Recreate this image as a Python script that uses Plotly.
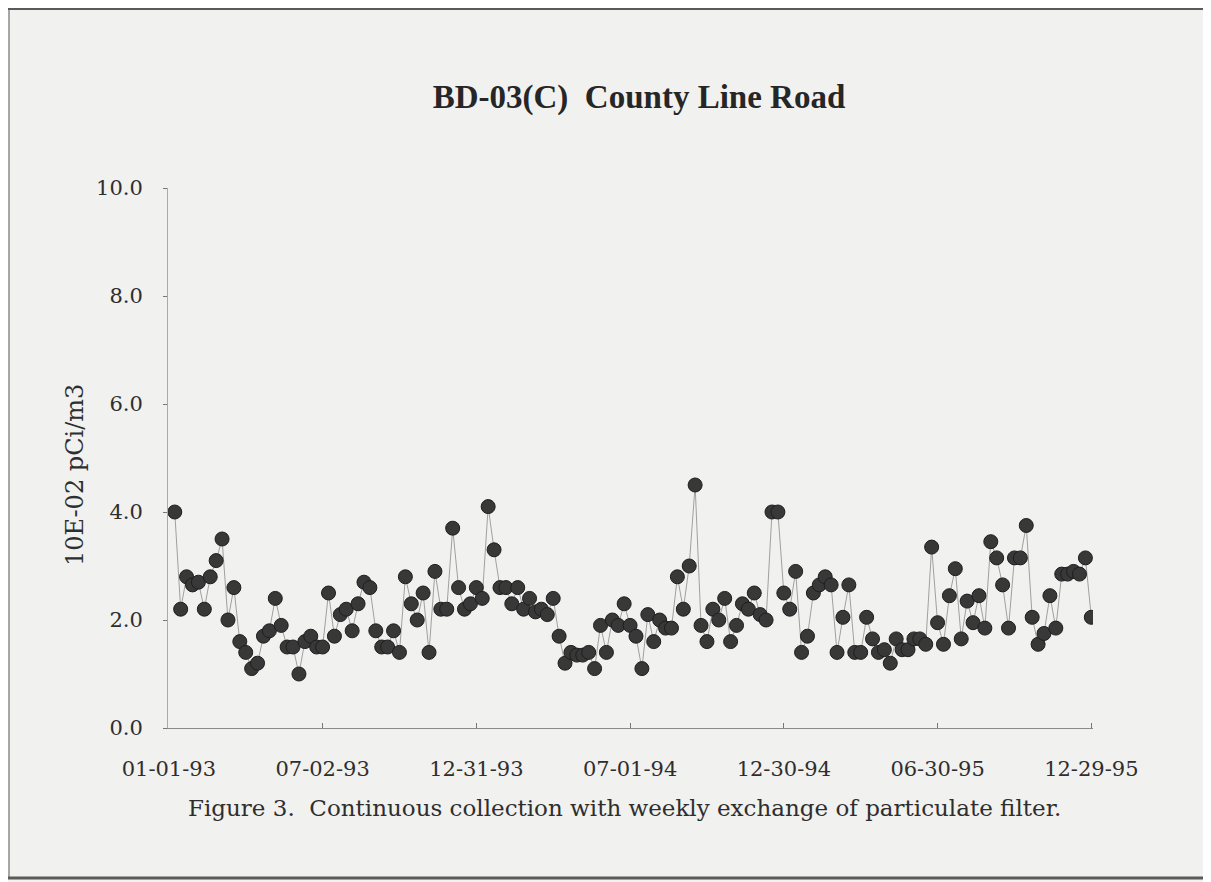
import pandas as pd
import plotly.graph_objects as go

# weekly particulate filter results, 10E-02 pCi/m3
values = [
    4.0, 2.2, 2.8, 2.65, 2.7, 2.2, 2.8, 3.1, 3.5, 2.0,
    2.6, 1.6, 1.4, 1.1, 1.2, 1.7, 1.8, 2.4, 1.9, 1.5,
    1.5, 1.0, 1.6, 1.7, 1.5, 1.5, 2.5, 1.7, 2.1, 2.2,
    1.8, 2.3, 2.7, 2.6, 1.8, 1.5, 1.5, 1.8, 1.4, 2.8,
    2.3, 2.0, 2.5, 1.4, 2.9, 2.2, 2.2, 3.7, 2.6, 2.2,
    2.3, 2.6, 2.4, 4.1, 3.3, 2.6, 2.6, 2.3, 2.6, 2.2,
    2.4, 2.15, 2.2, 2.1, 2.4, 1.7, 1.2, 1.4, 1.35, 1.35,
    1.4, 1.1, 1.9, 1.4, 2.0, 1.9, 2.3, 1.9, 1.7, 1.1,
    2.1, 1.6, 2.0, 1.85, 1.85, 2.8, 2.2, 3.0, 4.5, 1.9,
    1.6, 2.2, 2.0, 2.4, 1.6, 1.9, 2.3, 2.2, 2.5, 2.1,
    2.0, 4.0, 4.0, 2.5, 2.2, 2.9, 1.4, 1.7, 2.5, 2.65,
    2.8, 2.65, 1.4, 2.05, 2.65, 1.4, 1.4, 2.05, 1.65, 1.4,
    1.45, 1.2, 1.65, 1.45, 1.45, 1.65, 1.65, 1.55, 3.35, 1.95,
    1.55, 2.45, 2.95, 1.65, 2.35, 1.95, 2.45, 1.85, 3.45, 3.15,
    2.65, 1.85, 3.15, 3.15, 3.75, 2.05, 1.55, 1.75, 2.45, 1.85,
    2.85, 2.85, 2.9, 2.85, 3.15, 2.05,
]
dates = pd.date_range("1993-01-08", periods=len(values), freq="7D")

tick_dates = ["1993-01-01", "1993-07-02", "1993-12-31", "1994-07-01",
              "1994-12-30", "1995-06-30", "1995-12-29"]
tick_text = ["01-01-93", "07-02-93", "12-31-93", "07-01-94",
             "12-30-94", "06-30-95", "12-29-95"]
y_ticks = [0, 2, 4, 6, 8, 10]
y_tick_text = ["0.0", "2.0", "4.0", "6.0", "8.0", "10.0"]

SERIF = "DejaVu Serif, serif"
TITLE_FONT = "Liberation Serif, Times New Roman, serif"
PAPER = "#f1f1ef"
INK = "#2e2e2e"

W, H = 1211, 882
L, T, PW, PH = 160, 180, 925, 540  # plot area in figure pixels


def px_x(x):
    return (x - L) / PW


def px_y(y):
    return (T + PH - y) / PH


fig = go.Figure()
fig.add_trace(
    go.Scatter(
        x=dates,
        y=values,
        mode="lines+markers",
        line=dict(color="#a0a0a0", width=1),
        marker=dict(size=14, color="#383838", line=dict(color="#1e1e1e", width=1)),
        showlegend=False,
    )
)

fig.update_layout(
    width=W,
    height=H,
    margin=dict(l=L, r=W - L - PW, t=T, b=H - T - PH),
    paper_bgcolor=PAPER,
    plot_bgcolor=PAPER,
    font=dict(family=SERIF, size=21, color=INK),
    title=dict(
        text="<b>BD-03(C)  County Line Road</b>",
        x=631 / W,
        xanchor="center",
        y=1 - 88 / H,
        yanchor="middle",
        font=dict(family=TITLE_FONT, size=33, color="#262626"),
    ),
)

fig.update_xaxes(
    range=["1992-12-31", "1995-12-31"],
    tickvals=tick_dates,
    ticktext=tick_text,
    ticks="inside",
    ticklen=5,
    tickcolor="#777777",
    ticklabelstandoff=22,
    showline=True,
    linecolor="#8a8a8a",
    linewidth=1,
    showgrid=False,
    zeroline=False,
    tickfont=dict(family=SERIF, size=21, color=INK),
)
fig.update_yaxes(
    range=[0, 10],
    tickvals=y_ticks,
    ticktext=y_tick_text,
    ticks="outside",
    ticklen=4,
    tickcolor="#777777",
    ticklabelstandoff=16,
    showline=True,
    linecolor="#aaaaaa",
    linewidth=1,
    showgrid=False,
    zeroline=False,
    tickfont=dict(family=SERIF, size=21, color=INK),
)

# axis title placed by hand so it sits where the scan has it
fig.add_annotation(
    text="10E-02 pCi/m3",
    xref="paper", yref="paper",
    x=px_x(67), y=px_y(467),
    xanchor="center", yanchor="middle",
    textangle=-90,
    showarrow=False,
    font=dict(family=SERIF, size=24, color=INK),
)

fig.add_annotation(
    text="Figure 3.  Continuous collection with weekly exchange of particulate filter.",
    xref="paper", yref="paper",
    x=px_x(616), y=px_y(800),
    xanchor="center", yanchor="middle",
    showarrow=False,
    font=dict(family=SERIF, size=23, color=INK),
)

# scanned page frame
frame = [(0, 1, W, 1, 2), (0, 870, W, 870, 3), (1, 1, 1, 870, 1)]
for x0, y0, x1, y1, w in frame:
    fig.add_shape(type="line", xref="paper", yref="paper",
                  x0=px_x(x0), x1=px_x(x1), y0=px_y(y0), y1=px_y(y1),
                  line=dict(color="#5a5a5a", width=w))

fig.write_html("out.html")
